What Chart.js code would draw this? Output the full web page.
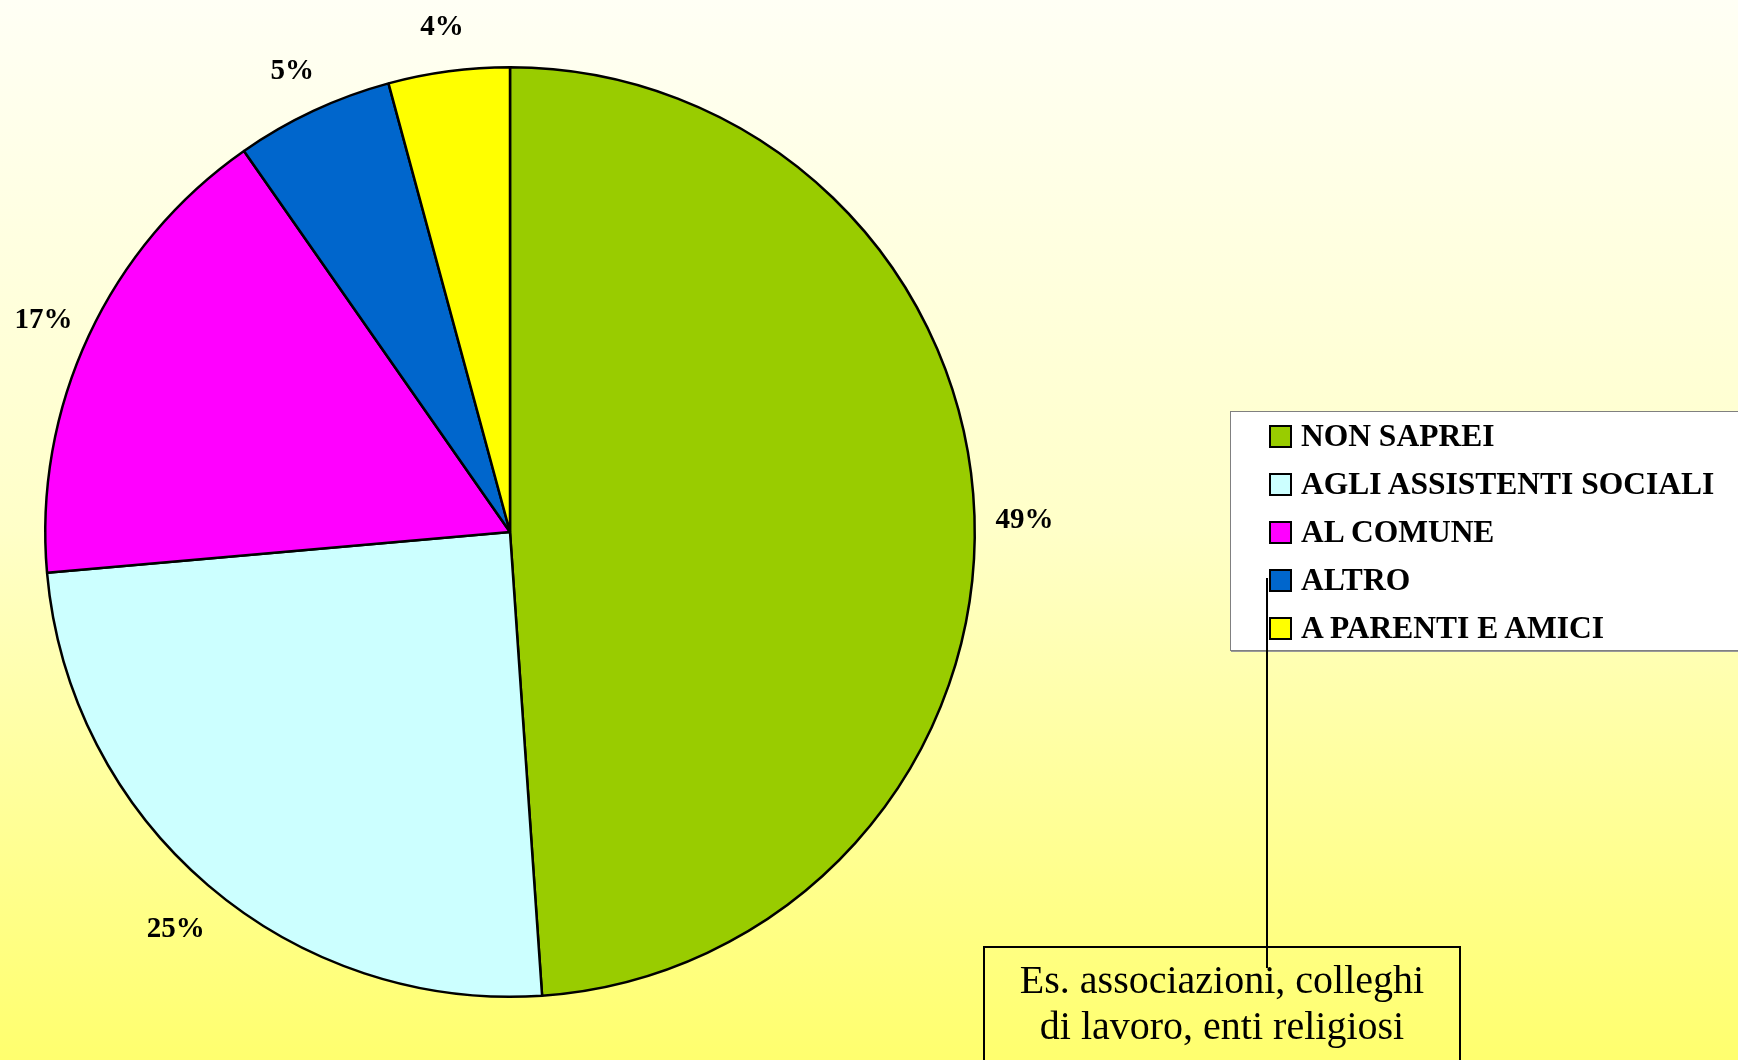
<!DOCTYPE html>
<html lang="it">

<head>
    <meta charset="UTF-8">
    <title>Pie</title>
    <script src="https://cdn.jsdelivr.net/npm/chart.js@4.4.1/dist/chart.umd.min.js"></script>
    <style>
        html,
        body {
            margin: 0;
            padding: 0;
            width: 1738px;
            height: 1060px;
            overflow: hidden;
        }
        
        body {
            position: relative;
            background: linear-gradient(to bottom, #fffff5 0%, #ffffc8 50%, #ffff6e 100%);
            font-family: "Liberation Serif", "Times New Roman", serif;
        }
        
        #wrap {
            position: absolute;
            left: 0;
            top: 0;
            width: 1738px;
            height: 1060px;
        }
        
        #legend {
            position: absolute;
            left: 1230px;
            top: 411px;
            width: 540px;
            height: 238px;
            background: #fff;
            border: 1px solid #808080;
            box-shadow: 1px 1px 0 #999;
        }
        
        .item {
            position: absolute;
            left: 38px;
            height: 30px;
            line-height: 30px;
            font-size: 31.5px;
            font-weight: bold;
            color: #000;
            white-space: nowrap;
        }
        
        .item span {
            display: inline-block;
            width: 19px;
            height: 19px;
            border: 2px solid #000;
            vertical-align: -2px;
            margin-right: 9px;
        }
        
        #lead {
            position: absolute;
            left: 1266px;
            top: 578px;
            width: 2px;
            height: 390px;
            background: #000;
        }
        
        #note {
            position: absolute;
            left: 983px;
            top: 946px;
            width: 478px;
            height: 130px;
            border: 2px solid #000;
            font-size: 40px;
            line-height: 46px;
            text-align: center;
            padding-top: 9px;
            box-sizing: border-box;
        }
    </style>
</head>

<body>
    <div id="wrap">
        <canvas id="chart" width="1738" height="1060"></canvas>
    </div>
    <div id="legend"></div>
    <div id="note">Es. associazioni, colleghi<br>di lavoro, enti religiosi</div>
    <div id="lead"></div>
    <script>
        const labels = ["NON SAPREI", "AGLI ASSISTENTI SOCIALI", "AL COMUNE", "ALTRO", "A PARENTI E AMICI"]
        const values = [48.9, 24.7, 16.7, 5.49, 4.21]
        const colors = ["#99cc00", "#ccffff", "#ff00ff", "#0066cc", "#ffff00"]

        // legend box (html, built from the same arrays)
        var lg = document.getElementById("legend")
        for (let i = 0; i < labels.length; i++) {
            let d = document.createElement("div")
            d.className = "item"
            d.style.top = (9 + i * 48) + "px"
            d.innerHTML = '<span style="background:' + colors[i] + '"></span>' + labels[i]
            lg.appendChild(d)
        }

        // percent labels outside the slices
        const outLabels = {
            id: "outLabels",
            afterDatasetsDraw(chart) {
                let ctx = chart.ctx
                let meta = chart.getDatasetMeta(0)
                let total = values.reduce((a, b) => a + b, 0)
                ctx.save()
                ctx.font = "bold 29px 'Liberation Serif'"
                ctx.fillStyle = "#000"
                ctx.textAlign = "center"
                ctx.textBaseline = "middle"
                meta.data.forEach((arc, i) => {
                    let p = arc.getProps(["x", "y", "startAngle", "endAngle", "outerRadius"], true)
                    let mid = (p.startAngle + p.endAngle) / 2
                    let r = p.outerRadius + 50
                    let txt = Math.round(values[i] / total * 100) + "%"
                    ctx.fillText(txt, p.x + Math.cos(mid) * r, p.y + Math.sin(mid) * r + 6)
                })
                ctx.restore()
            }
        }

        var chrt = new Chart(document.getElementById("chart"), {
            type: "pie",
            data: {
                labels: labels,
                datasets: [{
                    data: values,
                    backgroundColor: colors,
                    borderColor: "#000",
                    borderWidth: 2.5,
                }]
            },
            options: {
                responsive: false,
                animation: false,
                layout: {
                    padding: {
                        left: 0,
                        right: 718,
                        top: 66,
                        bottom: 62
                    }
                },
                plugins: {
                    legend: {
                        display: false
                    },
                    tooltip: {
                        enabled: false
                    }
                }
            },
            plugins: [outLabels]
        })
    </script>
</body>

</html>
